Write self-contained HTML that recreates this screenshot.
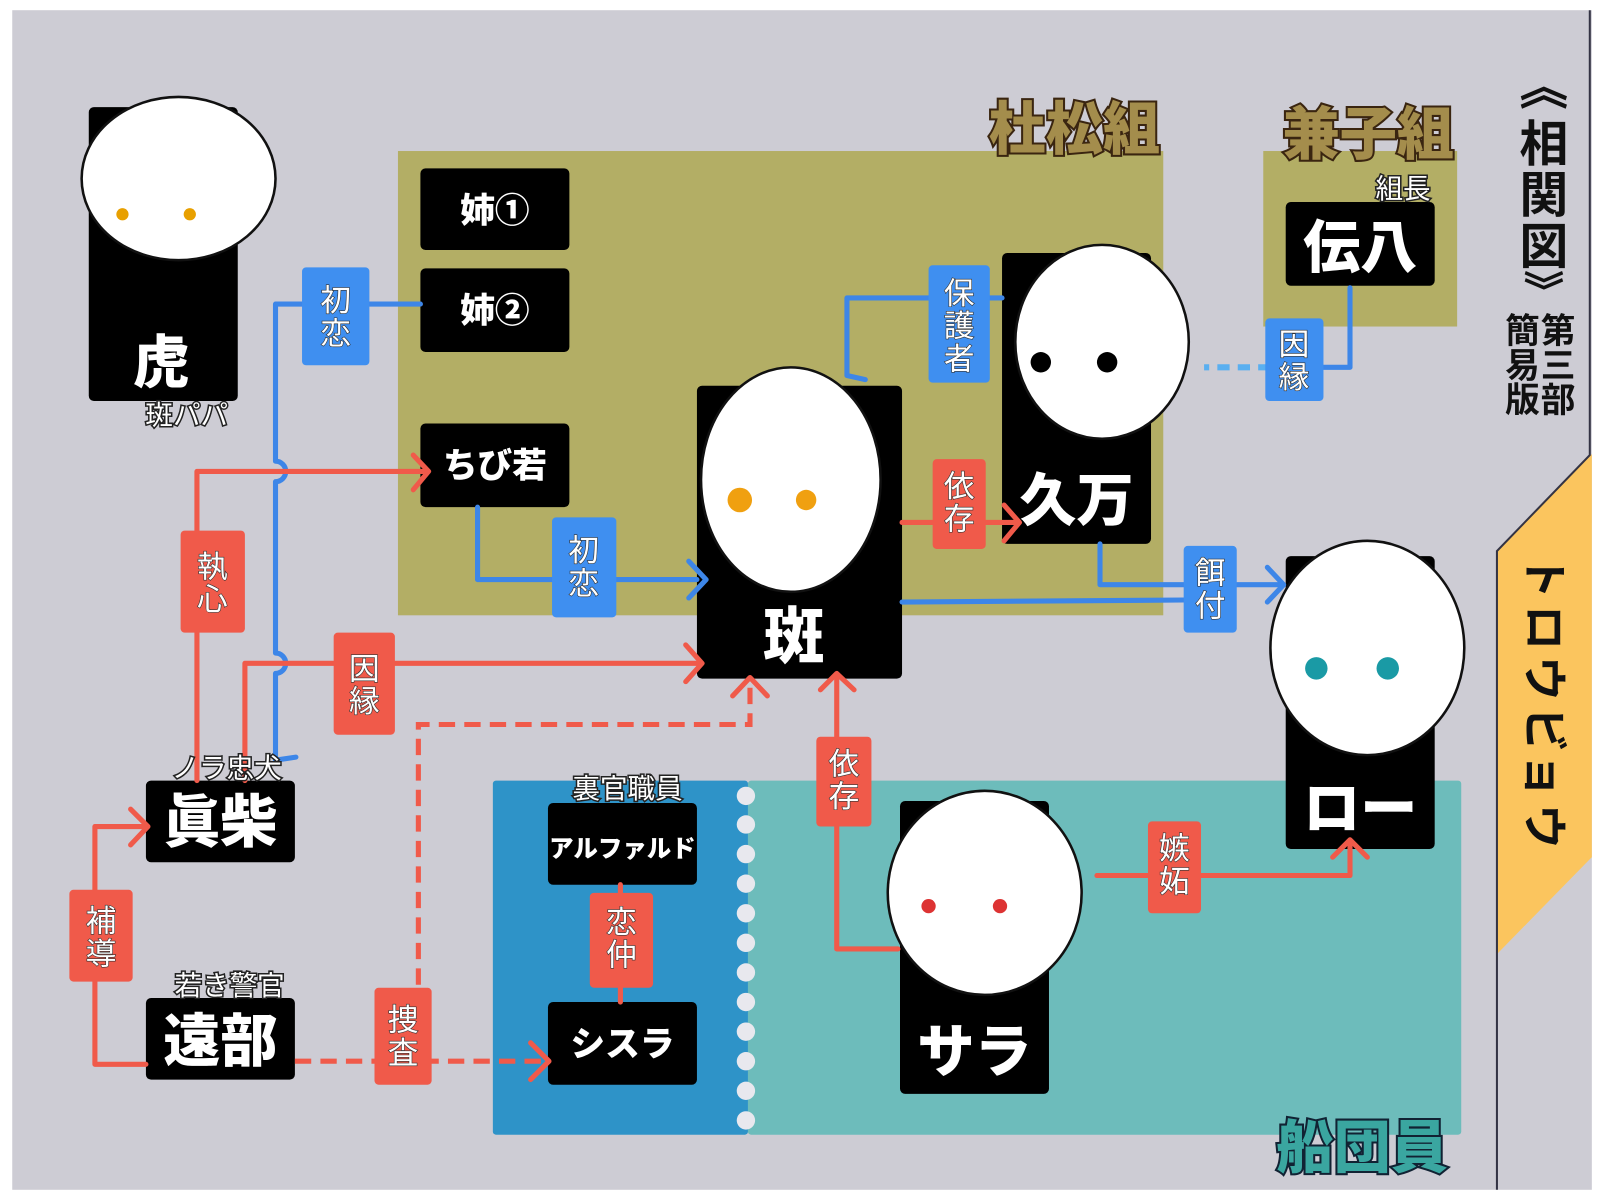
<!DOCTYPE html>
<html><head><meta charset="utf-8"><style>
html,body{margin:0;padding:0;background:#fff;width:1600px;height:1200px;overflow:hidden}
svg{display:block}
text{font-family:"Liberation Sans","Noto Sans CJK JP",sans-serif}
.nm{fill:#fff;font-weight:900;text-anchor:middle}
.lb{fill:#fff;font-size:30px;text-anchor:middle;stroke:#333;stroke-width:1.2px;paint-order:stroke}
.cap{fill:#fff;font-size:27px;text-anchor:middle;stroke:#222;stroke-width:3px;paint-order:stroke}
.ttl{font-weight:900;text-anchor:middle;stroke:#3a2510;stroke-width:4px;paint-order:stroke}
.vt{font-weight:700;fill:#111;text-anchor:middle}
.b{stroke:#3d86e8;stroke-width:5;fill:none;stroke-linejoin:round;stroke-linecap:round}
.r{stroke:#f05a4a;stroke-width:5;fill:none;stroke-linejoin:round;stroke-linecap:round}
.rd{stroke:#f05a4a;stroke-width:5;fill:none;stroke-dasharray:16 9}
.hd{fill:#fff;stroke:#111;stroke-width:2.5}
</style></head><body>
<svg width="1600" height="1200" viewBox="0 0 1568 1176" preserveAspectRatio="none">
<rect x="0" y="0" width="1568" height="1176" fill="#fff"/>
<rect x="12" y="10" width="1548" height="1156" fill="#cdccd4"/>
<polygon points="1467,540 1560,445 1560,840 1467,935" fill="#fbc55e"/>
<polyline points="1558,10 1558,446 1467,540 1467,1166" fill="none" stroke="#334" stroke-width="2"/>
<g class="vt" font-size="44" font-weight="900">
<text x="1513" y="580" transform="rotate(90 1513 565)">ト</text>
<text x="1513" y="630" transform="rotate(90 1513 615)">ロ</text>
<text x="1513" y="680" transform="rotate(90 1513 665)">ウ</text>
<text x="1513" y="730" transform="rotate(90 1513 715)">ビ</text>
<text x="1513" y="775" transform="rotate(90 1513 760)">ョ</text>
<text x="1513" y="825" transform="rotate(90 1513 810)">ウ</text>
</g>

<rect x="390" y="148" width="750" height="455" fill="#b3ae65"/>
<rect x="1238" y="148" width="190" height="172" fill="#b3ae65"/>
<rect x="483" y="765" width="250" height="347" rx="3" fill="#2e93c8"/>
<rect x="733" y="765" width="699" height="347" rx="3" fill="#6dbcbb"/>
<g fill="#e8e8ee">
<circle cx="731" cy="780" r="9"/><circle cx="731" cy="808" r="9"/><circle cx="731" cy="837" r="9"/><circle cx="731" cy="866" r="9"/><circle cx="731" cy="895" r="9"/><circle cx="731" cy="924" r="9"/><circle cx="731" cy="953" r="9"/><circle cx="731" cy="982" r="9"/><circle cx="731" cy="1011" r="9"/><circle cx="731" cy="1040" r="9"/><circle cx="731" cy="1069" r="9"/><circle cx="731" cy="1098" r="9"/>
</g>

<text class="ttl" x="1053" y="146" font-size="56" fill="#a48d4c">杜松組</text>
<text class="ttl" x="1341" y="151" font-size="56" fill="#a48d4c">兼子組</text>
<text class="ttl" x="1335" y="1144" font-size="56" fill="#3aa6a0" style="stroke:#123">船団員</text>
<g class="vt" font-size="48">
<text x="1513" y="102">︽</text>
<text x="1513" y="158">相</text>
<text x="1513" y="208">関</text>
<text x="1513" y="258">図</text>
</g>
<text class="vt" x="1513" y="300" font-size="40">︾</text>
<g class="vt" font-size="34">
<text x="1527" y="336">第</text><text x="1527" y="370">三</text><text x="1527" y="404">部</text>
<text x="1492" y="336">簡</text><text x="1492" y="370">易</text><text x="1492" y="404">版</text>
</g>

<rect x="87" y="105" width="146" height="288" rx="5" fill="#000"/>
<ellipse class="hd" cx="175" cy="175" rx="95" ry="80"/>
<rect x="683" y="378" width="201" height="287" rx="5" fill="#000"/>
<ellipse class="hd" cx="775" cy="470" rx="88" ry="110"/>
<rect x="982" y="248" width="146" height="285" rx="5" fill="#000"/>
<ellipse class="hd" cx="1080" cy="335" rx="85" ry="95"/>
<rect x="1260" y="545" width="146" height="287" rx="5" fill="#000"/>
<ellipse class="hd" cx="1340" cy="635" rx="95" ry="105"/>
<rect x="882" y="785" width="146" height="287" rx="5" fill="#000"/>
<ellipse class="hd" cx="965" cy="875" rx="95" ry="100"/>
<g>
<circle cx="120" cy="210" r="6" fill="#e8a000"/><circle cx="186" cy="210" r="6" fill="#e8a000"/>
<circle cx="725" cy="490" r="12" fill="#f0a010"/><circle cx="790" cy="490" r="10" fill="#f0a010"/>
<circle cx="1020" cy="355" r="10" fill="#000"/><circle cx="1085" cy="355" r="10" fill="#000"/>
<circle cx="1290" cy="655" r="11" fill="#1a9aa5"/><circle cx="1360" cy="655" r="11" fill="#1a9aa5"/>
<circle cx="910" cy="888" r="7" fill="#d33"/><circle cx="980" cy="888" r="7" fill="#d33"/>
</g>

<g fill="#000">
<rect x="412" y="165" width="146" height="80" rx="5"/>
<rect x="412" y="263" width="146" height="82" rx="5"/>
<rect x="412" y="415" width="146" height="82" rx="5"/>
<rect x="1260" y="198" width="146" height="82" rx="5"/>
<rect x="143" y="765" width="146" height="80" rx="5"/>
<rect x="143" y="978" width="146" height="80" rx="5"/>
<rect x="537" y="787" width="146" height="80" rx="5"/>
<rect x="537" y="982" width="146" height="81" rx="5"/>
</g>

<path class="b" d="M412,298 H270 V452 a10,10 0 0 1 0,20 V640 a10,10 0 0 1 0,20 V745 L290,742"/>
<path class="b" d="M468,497 V568 H683"/><polyline class="b" points="675,550 692,568 675,586"/>
<path class="b" d="M848,372 L830,368 V292 H982"/>
<path class="b" d="M1323,282 V360 H1290"/>
<path d="M1245,360 H1180" stroke="#5aaff0" stroke-width="6" stroke-dasharray="12 8"/>
<path class="b" d="M1078,533 V573 H1255"/><polyline class="b" points="1242,556 1258,573 1242,590"/>
<path class="b" d="M884,590 L1160,588"/>

<path class="r" d="M193,765 V462 H418"/><polyline class="r" points="405,446 420,462 405,480"/>
<path class="r" d="M240,765 V650 H686"/><polyline class="r" points="672,632 688,650 672,668"/>
<path class="r" d="M884,512 H996"/><polyline class="r" points="984,495 999,512 984,530"/>
<path class="r" d="M880,930 H820 V662"/><polyline class="r" points="804,676 820,660 837,676"/>
<path class="r" d="M1075,858 H1323 V826"/><polyline class="r" points="1306,840 1323,823 1340,840"/>
<path class="r" d="M143,1043 H93 V810 H140"/><polyline class="r" points="128,793 145,810 128,828"/>
<path class="rd" d="M289,1040 H533"/><polyline class="r" points="520,1022 538,1040 520,1058"/>
<path class="rd" d="M410,1040 V710 H735 V670"/><polyline class="r" points="718,682 735,664 752,682"/>
<path class="r" d="M608,867 V982"/>

<g fill="#3f8ff0">
<rect x="296" y="262" width="66" height="96" rx="4"/>
<rect x="541" y="507" width="63" height="98" rx="4"/>
<rect x="910" y="260" width="60" height="115" rx="4"/>
<rect x="1240" y="312" width="57" height="81" rx="4"/>
<rect x="1160" y="535" width="52" height="85" rx="4"/>
</g>
<g fill="#f05a4a">
<rect x="177" y="520" width="63" height="100" rx="4"/>
<rect x="327" y="620" width="60" height="100" rx="4"/>
<rect x="914" y="450" width="52" height="88" rx="4"/>
<rect x="800" y="722" width="54" height="88" rx="4"/>
<rect x="1125" y="805" width="52" height="90" rx="4"/>
<rect x="68" y="872" width="62" height="90" rx="4"/>
<rect x="367" y="968" width="56" height="95" rx="4"/>
<rect x="578" y="875" width="62" height="93" rx="4"/>
</g>
<g class="lb">
<text x="329" y="305">初</text><text x="329" y="337">恋</text>
<text x="572" y="550">初</text><text x="572" y="582">恋</text>
<text x="940" y="298">保</text><text x="940" y="330">護</text><text x="940" y="362">者</text>
<text x="1268" y="348">因</text><text x="1268" y="380">縁</text>
<text x="1186" y="572">餌</text><text x="1186" y="604">付</text>
<text x="208" y="566">執</text><text x="208" y="598">心</text>
<text x="357" y="666">因</text><text x="357" y="698">縁</text>
<text x="940" y="487">依</text><text x="940" y="519">存</text>
<text x="827" y="759">依</text><text x="827" y="791">存</text>
<text x="1151" y="842">嫉</text><text x="1151" y="874">妬</text>
<text x="99" y="913">補</text><text x="99" y="945">導</text>
<text x="395" y="1010">捜</text><text x="395" y="1042">査</text>
<text x="609" y="914">恋</text><text x="609" y="946">仲</text>
</g>

<text class="nm" x="485" y="218" font-size="34">姉①</text>
<text class="nm" x="485" y="316" font-size="34">姉②</text>
<text class="nm" x="485" y="468" font-size="34">ちび若</text>
<text class="nm" x="778" y="645" font-size="60">斑</text>
<text class="nm" x="1055" y="510" font-size="56">久万</text>
<text class="nm" x="1333" y="262" font-size="56">伝八</text>
<text class="nm" x="158" y="375" font-size="56">虎</text>
<text class="nm" x="216" y="825" font-size="56">眞柴</text>
<text class="nm" x="216" y="1040" font-size="56">遠部</text>
<text class="nm" x="610" y="840" font-size="24">アルファルド</text>
<text class="nm" x="610" y="1035" font-size="34">シスラ</text>
<text class="nm" x="955" y="1050" font-size="56">サラ</text>
<text class="nm" x="1333" y="812" font-size="56">ロー</text>

<g class="cap">
<text x="1375" y="194">組長</text>
<text x="183" y="416">斑パパ</text>
<text x="222" y="762">ノラ忠犬</text>
<text x="225" y="975">若き警官</text>
<text x="615" y="782">裏官職員</text>
</g>
</svg>
</body></html>
